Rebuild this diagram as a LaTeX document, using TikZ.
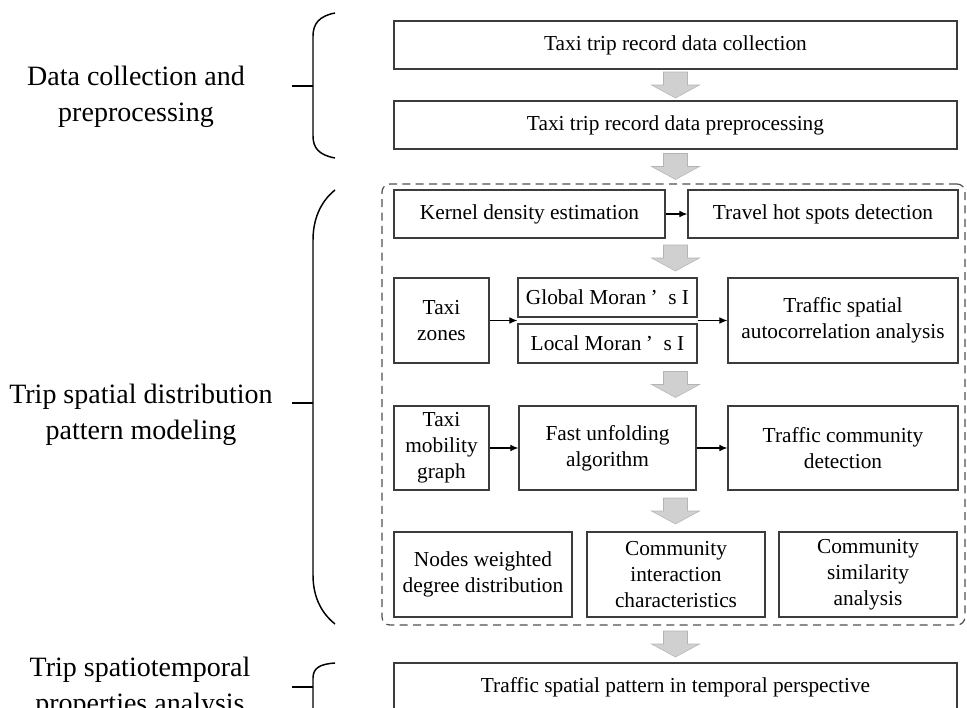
\documentclass[tikz,border=0pt]{standalone}
\usepackage{fontspec}
\setmainfont{Liberation Serif}
\usetikzlibrary{arrows.meta,calc}
\definecolor{boxgray}{HTML}{3C3C3C}
\definecolor{dashgray}{HTML}{505050}
\definecolor{arrowgray}{HTML}{D0D0D0}
\definecolor{arrowedge}{HTML}{B4B4B4}
\begin{document}
\begin{tikzpicture}[x=0.75pt,y=-0.75pt,
  box/.style={draw=boxgray, line width=0.9pt, fill=white, inner sep=0pt, align=center,
    font=\fontsize{16}{19.5}\selectfont, text=black},
  lab/.style={align=center, font=\fontsize{21}{27}\selectfont, text=black},
  conn/.style={-{Latex[length=6pt,width=5pt]}, line width=0.8pt, black},
  bracepath/.style={line width=1.1pt, black},
  grpbox/.style={draw=dashgray, line width=0.9pt, dash pattern=on 6pt off 4pt,
    rounded corners=6pt, inner sep=0pt},
  blk/.style={fill=arrowgray, draw=arrowedge, line width=0.4pt},
  blockarrow/.pic={\filldraw[blk] (-12,-13) -- (12,-13) -- (12,0) -- (24,0) -- (0,13) -- (-24,0) -- (-12,0) -- cycle;}
]
\useasboundingbox (0,0) rectangle (967,707);
\clip (0,0) rectangle (967,707);

% left labels
\node[lab] (l1) at (136,97) {Data collection and\\preprocessing};
\node[lab] (l2) at (141,415) {Trip spatial distribution\\pattern modeling};
\node[lab] (l3) at (140,688) {Trip spatiotemporal\\properties analysis};

% braces
\draw[bracepath] (335,13) .. controls (319,16) and (313,24) .. (313,36) -- (313,136)
  .. controls (313,148) and (319,155) .. (335,158);
\draw[bracepath] (292,86) -- (313,86);
\draw[bracepath] (335,190) .. controls (320,202) and (313,220) .. (313,240) -- (313,575)
  .. controls (313,595) and (320,612) .. (335,624);
\draw[bracepath] (292,403) -- (313,403);
\draw[bracepath] (335,663) .. controls (320,664) and (313,668) .. (313,678) -- (313,720);
\draw[bracepath] (292,687) -- (313,687);

% dashed group
\node[grpbox, minimum width=437.25pt, minimum height=330.75pt] (grp) at (673.5,404.5) {};

% boxes
\node[box, minimum width=422.25pt, minimum height=36pt] (b1) at (675.5,45) {Taxi trip record data collection};
\node[box, minimum width=422.25pt, minimum height=36pt] (b2) at (675.5,125) {Taxi trip record data preprocessing};

\node[box, minimum width=203.25pt, minimum height=36pt] (k) at (529.5,214) {Kernel density estimation};
\node[box, minimum width=202.5pt, minimum height=36pt] (t) at (823,214) {Travel hot spots detection};

\node[box, minimum width=71.25pt, minimum height=63.75pt] (tz) at (441.5,320.5) {Taxi\\zones};
\node[box, minimum width=134.25pt, minimum height=29.25pt] (gm) at (607.5,297.5) {Global Moran\hspace{0.2em}’\hspace{0.5em}s I};
\node[box, minimum width=134.25pt, minimum height=29.25pt] (lm) at (607.5,343.5) {Local Moran\hspace{0.2em}’\hspace{0.5em}s I};
\node[box, minimum width=172.5pt, minimum height=63.75pt] (ts) at (843,320.5) {Traffic spatial\\autocorrelation analysis};

\node[box, minimum width=71.25pt, minimum height=63pt] (tm) at (441.5,448) {Taxi\\mobility\\graph};
\node[box, minimum width=132.75pt, minimum height=63pt] (fu) at (607.5,448) {Fast unfolding\\algorithm};
\node[box, minimum width=172.5pt, minimum height=63pt] (tc) at (843,448) {Traffic community\\detection};

\node[box, minimum width=133.5pt, minimum height=63.75pt] (nw) at (483,574.5) {Nodes weighted\\degree distribution};
\node[box, minimum width=133.5pt, minimum height=63.75pt] (ci) at (676,574.5) {Community\\interaction\\characteristics};
\node[box, minimum width=133.5pt, minimum height=63.75pt] (cs) at (868,574.5) {Community\\similarity\\analysis};

\node[box, minimum width=422.25pt, minimum height=36pt] (fin) at (675.5,687) {Traffic spatial pattern in temporal perspective};

% small connectors
\draw[conn] (k) -- (t);
\draw[conn] (tz.east) -- (tz.east -| gm.west);
\draw[conn] (tz.east -| gm.east) -- (ts.west);
\draw[conn] (tm) -- (fu);
\draw[conn] (fu) -- (tc);

% block arrows
\pic at ($(b1.south)!0.5!(b2.north)$) {blockarrow};
\pic at ($(b2.south)!0.5!(grp.north -| b2.south)$) {blockarrow};
\pic at ($(k.south -| b1.south)!0.5!(gm.north -| b1.south)$) {blockarrow};
\pic at ($(ts.south -| b1.south)!0.5!(tc.north -| b1.south)$) {blockarrow};
\pic at ($(tc.south -| b1.south)!0.5!(cs.north -| b1.south)$) {blockarrow};
\pic at ($(grp.south -| b1.south)!0.5!(fin.north)$) {blockarrow};
\end{tikzpicture}
\end{document}
